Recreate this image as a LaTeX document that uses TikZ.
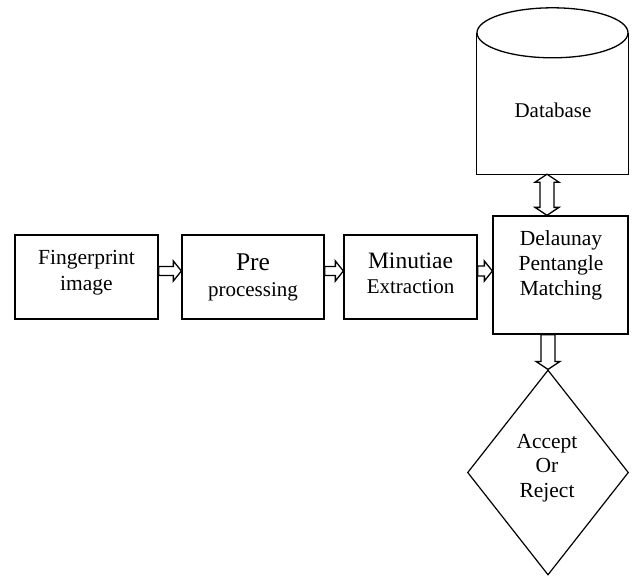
\documentclass[tikz,border=0pt]{standalone}
\usepackage{fontspec}
\setmainfont{Liberation Serif}
\usetikzlibrary{calc,shapes.geometric}
\begin{document}
\begin{tikzpicture}[x=1pt,y=-1pt,
  box/.style={draw, line width=1.3pt, inner sep=0pt},
  lbl/.style={align=center, inner sep=0pt},
  % hollow block arrow: #1 = shaft half width, #2 = head half width
  blockarrow/.style 2 args={draw, line width=1.3pt, fill=white, line join=miter,
    to path={
      ($(\tikztostart)!#1!90:(\tikztotarget)$)
      -- ($($(\tikztotarget)!8pt!(\tikztostart)$)!#1!90:(\tikztotarget)$)
      -- ($($(\tikztotarget)!8pt!(\tikztostart)$)!#2!90:(\tikztotarget)$)
      -- (\tikztotarget)
      -- ($($(\tikztotarget)!8pt!(\tikztostart)$)!#2!-90:(\tikztotarget)$)
      -- ($($(\tikztotarget)!8pt!(\tikztostart)$)!#1!-90:(\tikztotarget)$)
      -- ($(\tikztostart)!#1!-90:(\tikztotarget)$) -- cycle}},
  % hollow block arrow with heads at both ends
  dblockarrow/.style 2 args={draw, line width=1.3pt, fill=white, line join=miter,
    to path={
      (\tikztostart)
      -- ($($(\tikztostart)!8pt!(\tikztotarget)$)!#2!90:(\tikztotarget)$)
      -- ($($(\tikztostart)!8pt!(\tikztotarget)$)!#1!90:(\tikztotarget)$)
      -- ($($(\tikztotarget)!8pt!(\tikztostart)$)!#1!90:(\tikztotarget)$)
      -- ($($(\tikztotarget)!8pt!(\tikztostart)$)!#2!90:(\tikztotarget)$)
      -- (\tikztotarget)
      -- ($($(\tikztotarget)!8pt!(\tikztostart)$)!#2!-90:(\tikztotarget)$)
      -- ($($(\tikztotarget)!8pt!(\tikztostart)$)!#1!-90:(\tikztotarget)$)
      -- ($($(\tikztostart)!8pt!(\tikztotarget)$)!#1!-90:(\tikztotarget)$)
      -- ($($(\tikztostart)!8pt!(\tikztotarget)$)!#2!-90:(\tikztotarget)$)
      -- cycle}}
]
\useasboundingbox (0,0) rectangle (633,576);

% process boxes
\node[box, minimum width=143pt, minimum height=84pt] (fp)  at (86.5,277) {};
\node[box, minimum width=142pt, minimum height=84pt] (pre) at (253,277) {};
\node[box, minimum width=133pt, minimum height=84pt] (min) at (410.5,277) {};
\node[box, minimum width=135pt, minimum height=118pt] (del) at (560.5,275) {};

% database cylinder
\node[inner sep=0pt, minimum width=151pt, minimum height=141pt] (db) at (552.5,103.5) {};
\draw[line width=1.3pt] (db.north west) -- (db.south west) -- (db.south east) -- (db.north east);
\draw[line width=1.3pt] (db.north) ellipse [x radius=75.5pt, y radius=25pt];

% decision
\node[draw, diamond, line width=1.2pt, inner sep=0pt, minimum width=161pt, minimum height=205pt] (dec) at (548,472.5) {};

% labels
\node[lbl, font=\fontsize{21.5}{26}\selectfont] (fpT) at (86.5,273) {Fingerprint\\image};
\node[lbl, font=\fontsize{21}{26}\selectfont] (preT) at (253,277) {{\fontsize{25.5}{26}\selectfont Pre}\\processing};
\node[lbl, font=\fontsize{21}{25}\selectfont] (minT) at (410.5,273) {{\fontsize{23.5}{25}\selectfont Minutiae}\\Extraction};
\node[lbl, font=\fontsize{21.5}{25}\selectfont] (delT) at (561,265) {Delaunay\\Pentangle\\Matching};
\node[lbl, font=\fontsize{21.5}{24.5}\selectfont] (decT) at (547,468) {Accept\\Or\\Reject};
\node[lbl, font=\fontsize{21}{24}\selectfont] (dbT) at (553,110) {Database};

% connectors
\draw[blockarrow={4.5pt}{10pt}] ([yshift=6pt]fp.east) to ([yshift=6pt]pre.west);
\draw[blockarrow={4.5pt}{10pt}] ([yshift=6pt]pre.east) to ([yshift=6pt]min.west);
\draw[blockarrow={5pt}{10pt}] ([yshift=6pt]min.east) to ([yshift=6pt]min.east -| del.west);
\draw[dblockarrow={7pt}{12pt}] ([xshift=-5.5pt]db.south) to ([xshift=-5.5pt]db.south |- del.north);
\draw[blockarrow={7pt}{12pt}] (dec.north |- del.south) to (dec.north);
\end{tikzpicture}
\end{document}
